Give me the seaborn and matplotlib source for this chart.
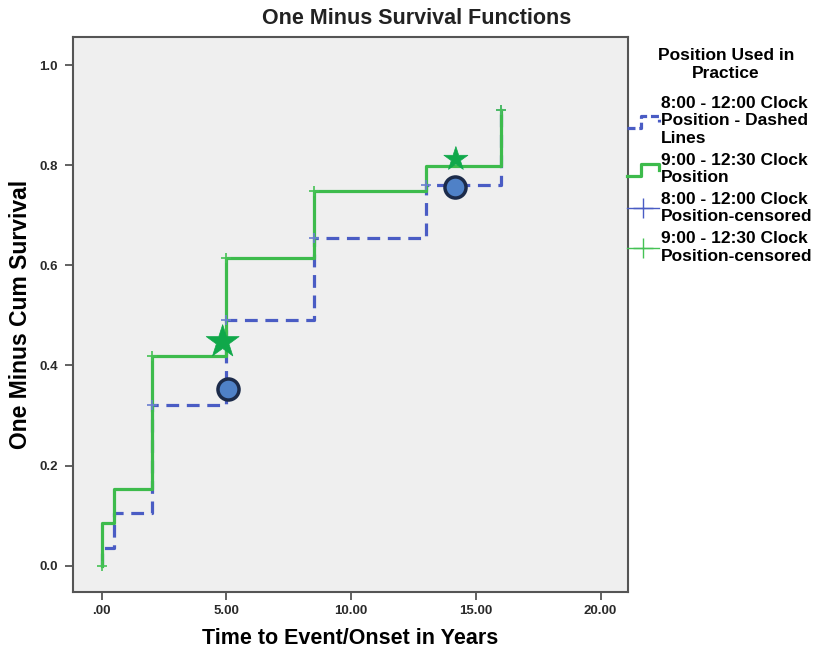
import numpy as np
import pandas as pd
import matplotlib
matplotlib.use('Agg')
import matplotlib.pyplot as plt
import seaborn as sns
from matplotlib.lines import Line2D
from matplotlib.legend_handler import HandlerBase

# step data
times = [0, 0.5, 2, 5, 8.5, 13, 16]
green_vals = [0.085, 0.153, 0.418, 0.615, 0.748, 0.798, 0.91]
blue_vals = [0.035, 0.105, 0.32, 0.49, 0.655, 0.76, 0.91]

# censored marks
green_cens_t = [0, 2, 5, 8.5, 16]
green_cens_y = [0.0, 0.418, 0.615, 0.748, 0.91]
blue_cens_t = [2, 5, 8.5, 13, 16]
blue_cens_y = [0.32, 0.49, 0.655, 0.76, 0.91]

# highlight markers
star_t = [4.85, 14.2]
star_y = [0.447, 0.812]
star_size = [620, 330]
circle_t = [5.05, 14.15]
circle_y = [0.353, 0.757]

xticks = [0, 5, 10, 15, 20]
xtick_labels = ['.00', '5.00', '10.00', '15.00', '20.00']
yticks = [0.0, 0.2, 0.4, 0.6, 0.8, 1.0]

labels = ['8:00 - 12:00 Clock\nPosition - Dashed\nLines',
          '9:00 - 12:30 Clock\nPosition',
          '8:00 - 12:00 Clock\nPosition-censored',
          '9:00 - 12:30 Clock\nPosition-censored']

GREEN = '#3dbb4c'
BLUE = '#4a5cc4'
STAR = '#10a84a'

plt.rcParams['font.family'] = ['Liberation Sans', 'DejaVu Sans']

fig = plt.figure(figsize=(8.21, 6.54), dpi=100)
ax = fig.add_axes([73/821, 1 - 592/654, (628-73)/821, (592-37)/654])
ax.set_facecolor('#efefef')

blue_df = pd.DataFrame({'t': [0] + times, 'y': [0] + blue_vals})
green_df = pd.DataFrame({'t': [0] + times, 'y': [0] + green_vals})

sns.lineplot(data=blue_df, x='t', y='y', estimator=None, sort=False, ax=ax,
             color=BLUE, lw=2.3, drawstyle='steps-post', linestyle=(0, (4, 2.4)))
sns.lineplot(data=green_df, x='t', y='y', estimator=None, sort=False, ax=ax,
             color=GREEN, lw=2.3, drawstyle='steps-post')

sns.scatterplot(x=blue_cens_t, y=blue_cens_y, marker='+', s=50, color='#6a7fd0',
                linewidth=1.2, ax=ax, zorder=4)
sns.scatterplot(x=green_cens_t, y=green_cens_y, marker='+', s=50, color='#45c255',
                linewidth=1.2, ax=ax, zorder=4)

sns.scatterplot(x=circle_t, y=circle_y, s=230, color='#4f81c7', edgecolor='#1c2b4a',
                linewidth=2.5, ax=ax, zorder=5)
sns.scatterplot(x=star_t, y=star_y, marker='*', s=star_size, color=STAR,
                edgecolor=STAR, linewidth=0.5, ax=ax, zorder=5)

ax.set_xlim(-1.15, 21.1)
ax.set_ylim(-0.0525, 1.056)
ax.set_xticks(xticks)
ax.set_xticklabels(xtick_labels)
ax.set_yticks(yticks)
ax.set_yticklabels([f'{v:.1f}' for v in yticks])
ax.tick_params(length=6, width=1.3, color='#555555', labelsize=9.5, labelcolor='#2a2a2a')
ax.tick_params(axis='y', pad=5)
for lab in ax.get_xticklabels() + ax.get_yticklabels():
    lab.set_fontweight('bold')
for sp in ax.spines.values():
    sp.set_color('#555555')
    sp.set_linewidth(1.5)

ax.set_xlabel('Time to Event/Onset in Years', fontsize=15.5, fontweight='bold', labelpad=8)
ax.set_ylabel('One Minus Cum Survival', fontsize=16.5, fontweight='bold', labelpad=5)
fig.text(0.507, 1 - 19/654, 'One Minus Survival Functions', ha='center', va='center',
         fontsize=15.5, fontweight='bold', color='#222222')


class StepHandler(HandlerBase):
    def __init__(self, ls):
        super().__init__()
        self.ls = ls

    def create_artists(self, legend, orig_handle, xdescent, ydescent, width, height, fontsize, trans):
        xs = np.array([0, 0.45, 0.45, 1, 1]) * width - xdescent
        ys = np.array([-0.1, -0.1, 0.9, 0.9, 0.4]) * height - ydescent
        line = Line2D(xs, ys, color=orig_handle.get_color(), lw=2.3,
                      linestyle=self.ls, transform=trans)
        return [line]


h1 = Line2D([], [], color=BLUE)
h2 = Line2D([], [], color=GREEN)
h3 = Line2D([], [], color='#4a5cc4', lw=1, marker='+', markersize=15, markeredgewidth=1)
h4 = Line2D([], [], color='#45c255', lw=1, marker='+', markersize=15, markeredgewidth=1)

# legend title drawn separately so the gap under it matches
fig.text(726/821, 1 - 65/654, 'Position Used in\nPractice', ha='center', va='center',
         fontsize=12.5, fontweight='bold', linespacing=1.25)

leg = fig.legend([h1, h2, h3, h4], labels, loc='upper left',
                 bbox_to_anchor=(627/821, 1 - 96/654), frameon=False,
                 handler_map={h1: StepHandler((0, (2.5, 1.2))), h2: StepHandler('-')},
                 prop={'weight': 'bold', 'size': 12.5},
                 handlelength=1.85, handletextpad=0.12, labelspacing=0.4,
                 borderpad=0, borderaxespad=0, numpoints=1)
for t in leg.get_texts():
    t.set_linespacing(1.2)

fig.savefig('out.png', dpi=100, facecolor='white')
